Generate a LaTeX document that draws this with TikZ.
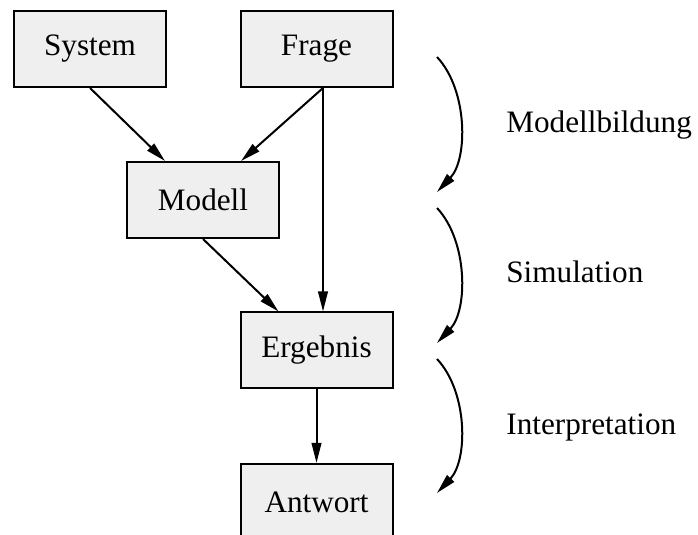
\documentclass[tikz,border=0pt]{standalone}
\usepackage{fontspec}
\setmainfont{Liberation Serif}
\usetikzlibrary{arrows.meta}
\definecolor{boxgray}{HTML}{EFEFEF}
\begin{document}
\begin{tikzpicture}[x=0.5pt, y=-0.5pt,
    box/.style={draw, fill=boxgray, line width=1pt, minimum width=76pt, minimum height=38pt, inner sep=0pt, font=\fontsize{15.6}{18}\selectfont},
    arr/.style={-{Triangle[length=10pt,width=4.8pt]}, line width=1pt},
    lbl/.style={anchor=base west, inner sep=0pt, font=\fontsize{15.6}{18}\selectfont}]
    \clip (0,0) rectangle (698,535);
    \node[box] (system) at (90,49) {System};
    \node[box] (frage) at (316.5,49) {Frage};
    \node[box] (modell) at (203,200) {Modell};
    \node[box] (ergebnis) at (316.5,350.5) {Ergebnis};
    \node[box] (antwort) at (316.5,502) {Antwort};

    \draw[arr] (system.south) -- ([xshift=-19pt]modell.north);
    \draw[arr] ([xshift=3.25pt]frage.south) -- ([xshift=19pt]modell.north);
    \draw[arr] ([xshift=3.25pt]frage.south) -- ([xshift=3.25pt]ergebnis.north);
    \draw[arr] (modell.south) -- ([xshift=-19pt]ergebnis.north);
    \draw[arr] (ergebnis) -- (antwort);

    % phases
    \coordinate (a1) at (437,57);  \coordinate (b1) at (437,192);
    \coordinate (a2) at (437,208); \coordinate (b2) at (437,343);
    \coordinate (a3) at (437,359); \coordinate (b3) at (437,493);
    \draw[arr] (a1) .. controls +(31,33) and +(31,-33) .. (b1);
    \draw[arr] (a2) .. controls +(31,33) and +(31,-33) .. (b2);
    \draw[arr] (a3) .. controls +(31,33) and +(31,-33) .. (b3);

    \node[lbl] (bildung) at (506,133) {Modellbildung};
    \node[lbl] (simulation) at (506,283) {Simulation};
    \node[lbl] (interpretation) at (506,435) {Interpretation};
\end{tikzpicture}
\end{document}
